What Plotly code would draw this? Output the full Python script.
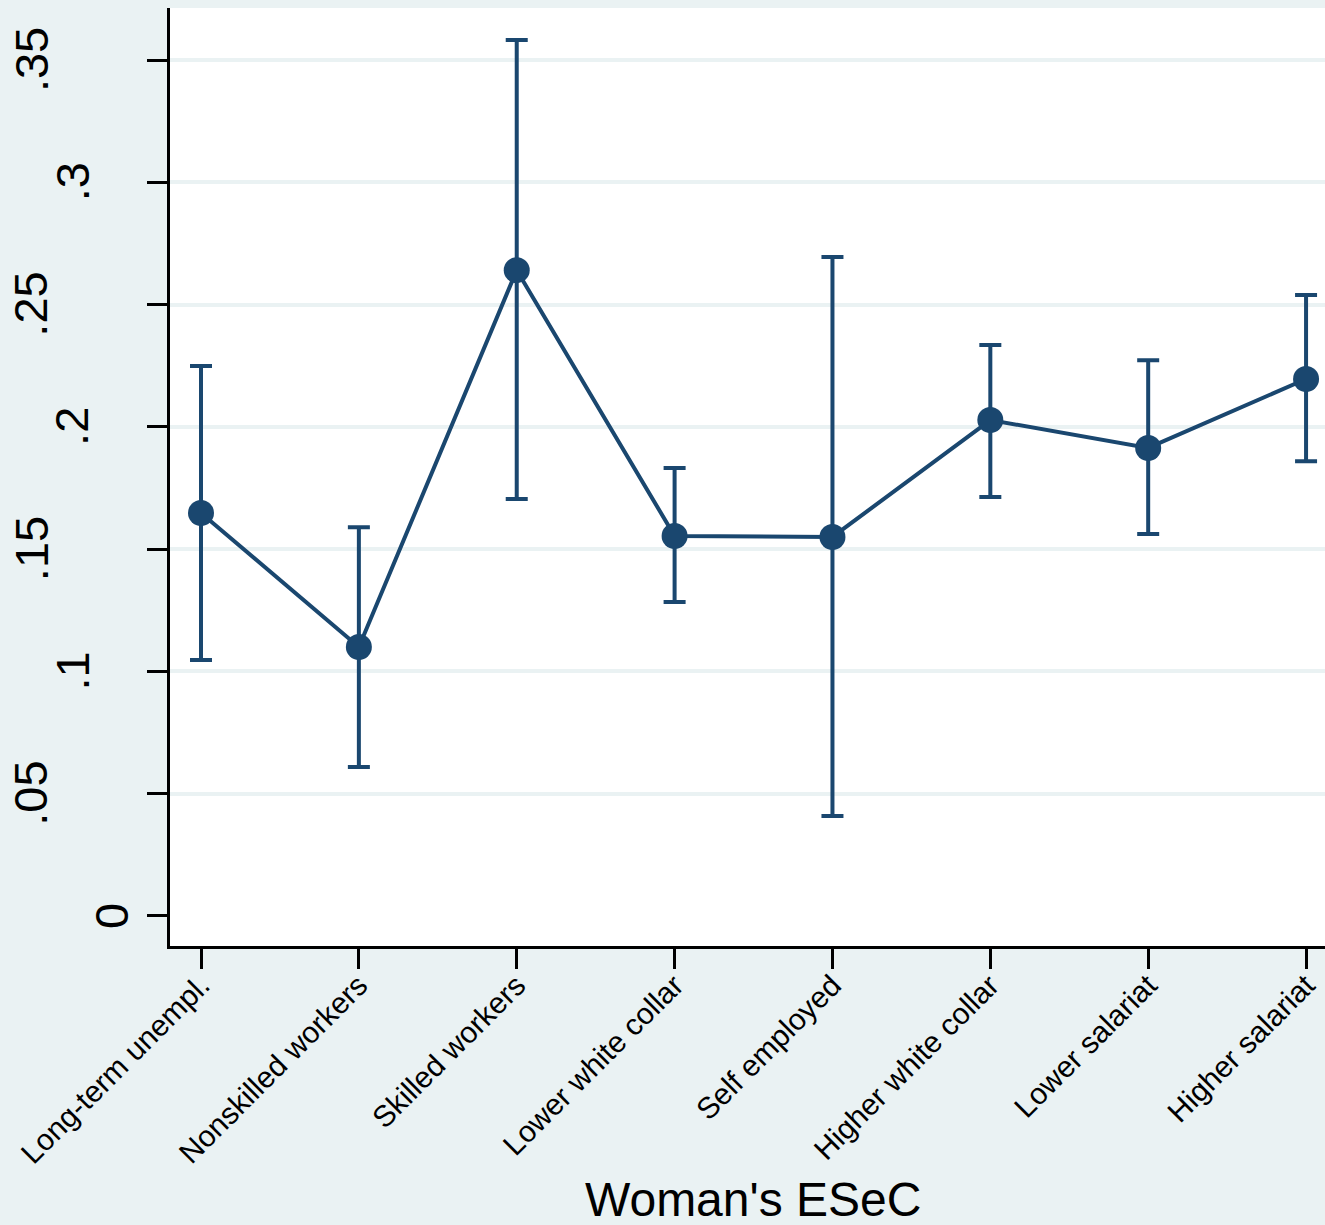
import plotly.graph_objects as go

categories = ["Long-term unempl.", "Nonskilled workers", "Skilled workers",
              "Lower white collar", "Self employed", "Higher white collar",
              "Lower salariat", "Higher salariat"]
estimates = [0.1648, 0.1100, 0.2641, 0.1554, 0.1550, 0.2028, 0.1914, 0.2196]
upper = [0.2249, 0.1590, 0.3582, 0.1832, 0.2695, 0.2335, 0.2273, 0.2539]
lower = [0.1047, 0.0609, 0.1705, 0.1284, 0.0409, 0.1713, 0.1562, 0.1860]

y_tick_vals = [0, 0.05, 0.1, 0.15, 0.2, 0.25, 0.3, 0.35]
y_tick_text = ["0", ".05", ".1", ".15", ".2", ".25", ".3", ".35"]
grid_vals = [0.05, 0.1, 0.15, 0.2, 0.25, 0.3, 0.35]

NAVY = "#1a476f"
BG = "#eaf2f3"
FONT = "Liberation Sans, Arial, Helvetica, sans-serif"

xs = list(range(len(categories)))
fig = go.Figure()
fig.add_trace(go.Scatter(
    x=xs, y=estimates, mode="lines+markers",
    line=dict(color=NAVY, width=4),
    marker=dict(color=NAVY, size=26),
    error_y=dict(type="data", symmetric=False,
                 array=[u - e for u, e in zip(upper, estimates)],
                 arrayminus=[e - l for e, l in zip(estimates, lower)],
                 color=NAVY, thickness=4, width=11),
    showlegend=False, hoverinfo="skip",
))

W, H = 1325, 1225
L, R, T, B = 170, 0, 8, 279
plot_w = W - L - R
plot_h = H - T - B

def px_to_paper_x(p):
    return (p - L) / plot_w

def px_to_paper_y(p):
    return (H - B - p) / plot_h

annotations = []
for v, t in zip(y_tick_vals, y_tick_text):
    n = len(t)
    cx = {1: 112, 2: 72, 3: 31}[n]
    annotations.append(dict(
        x=px_to_paper_x(cx), xref="paper", y=v, yref="y",
        text=t, textangle=-90, showarrow=False,
        xanchor="center", yanchor="middle",
        font=dict(family=FONT, size=47, color="black"),
    ))
annotations.append(dict(
    x=px_to_paper_x(753), xref="paper", y=px_to_paper_y(1199), yref="paper",
    text="Woman's ESeC", showarrow=False, xanchor="center", yanchor="middle",
    font=dict(family=FONT, size=48, color="black"),
))

fig.update_layout(
    width=W, height=H,
    margin=dict(l=L, r=R, t=T, b=B, pad=0),
    paper_bgcolor=BG, plot_bgcolor="white",
    font=dict(family=FONT, color="black"),
    annotations=annotations,
    xaxis=dict(
        range=[-0.1964, 7.12], tickvals=xs, ticktext=categories,
        tickangle=-45, tickfont=dict(family=FONT, size=30, color="black"),
        ticks="outside", ticklen=20, tickwidth=2.5, tickcolor="black",
        ticklabelstandoff=-13,
        showline=True, linecolor="black", linewidth=2.5,
        showgrid=False, zeroline=False,
    ),
    yaxis=dict(
        range=[-0.01227, 0.3713], tickvals=y_tick_vals,
        showticklabels=False,
        ticks="outside", ticklen=20, tickwidth=2.5, tickcolor="black",
        showline=True, linecolor="black", linewidth=2.5,
        showgrid=False, zeroline=False,
        minor=dict(tickvals=grid_vals, showgrid=True, gridcolor=BG,
                   gridwidth=3.5, ticklen=0),
    ),
)

fig.write_html("out.html", config={"displayModeBar": False},
               post_script="document.body.style.margin='0px';document.body.style.padding='0px';")
